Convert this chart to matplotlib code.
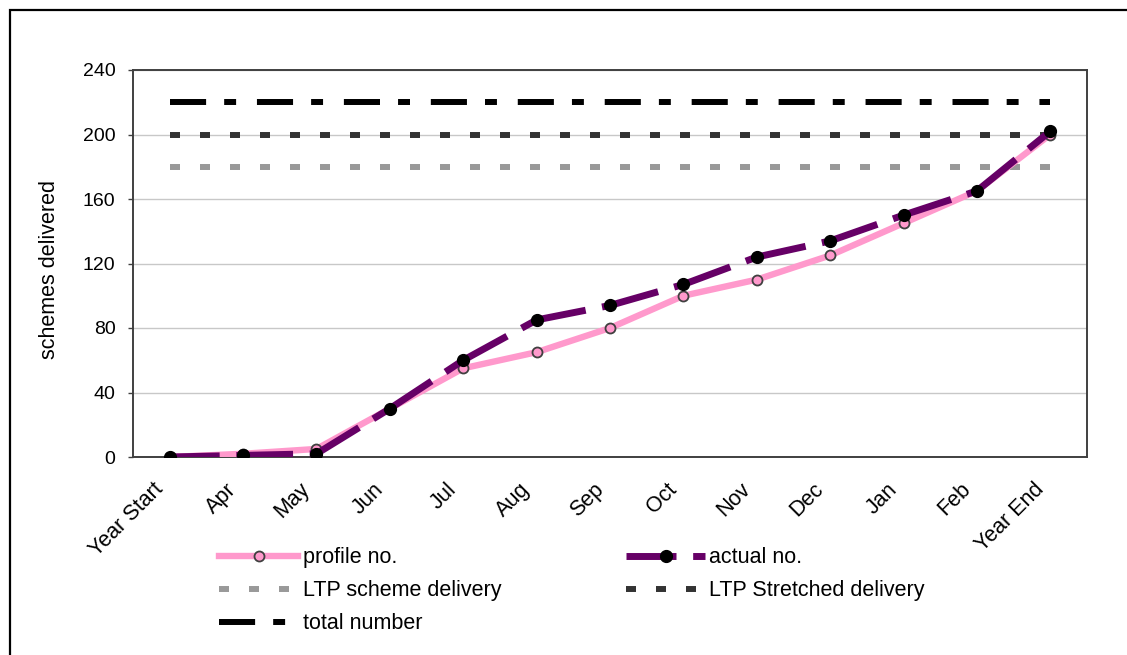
import matplotlib
matplotlib.use("Agg")
import matplotlib.pyplot as plt
from matplotlib.lines import Line2D
from matplotlib.patches import Rectangle
import matplotlib.transforms as mtransforms

categories = ["Year Start", "Apr", "May", "Jun", "Jul", "Aug", "Sep",
              "Oct", "Nov", "Dec", "Jan", "Feb", "Year End"]
profile_no = [0, 2, 5, 30, 55, 65, 80, 100, 110, 125, 145, 165, 200]
actual_no = [0, 1, 2, 30, 60, 85, 94, 107, 124, 134, 150, 165, 202]
ltp_scheme = [180] * 13
ltp_stretched = [200] * 13
total_number = [220] * 13
y_ticks = [0, 40, 80, 120, 160, 200, 240]

plt.rcParams['font.family'] = ['Liberation Sans', 'DejaVu Sans']
plt.rcParams['lines.scale_dashes'] = False
FS_Y = 14
FS = 15.5

W, H = 1127, 655
fig = plt.figure(figsize=(W / 100, H / 100), dpi=100)
fig.patches.append(Rectangle((10 / W, -0.1), 1.2, 1 - 10 / H + 0.1,
                             transform=fig.transFigure, fill=False,
                             edgecolor='black', linewidth=1.6))

ax = fig.add_axes([133 / W, 1 - 457 / H, (1087 - 133) / W, (457 - 70) / H])
x = list(range(len(categories)))

ax.set_ylim(0, 240)
ax.set_xlim(-0.5, len(categories) - 0.5)
ax.set_yticks(y_ticks)
ax.grid(axis='y', color='#c8c8c8', linewidth=1)
ax.set_axisbelow(True)

ltp1, = ax.plot(x, ltp_scheme, color='#999999', linewidth=4.3,
                dashes=(7.2, 14.4), dash_capstyle='butt', label='LTP scheme delivery', zorder=2)
ltp2, = ax.plot(x, ltp_stretched, color='#333333', linewidth=4.3,
                dashes=(7.2, 14.4), dash_capstyle='butt', label='LTP Stretched delivery', zorder=2)
tot, = ax.plot(x, total_number, color='black', linewidth=4.3,
               dashes=(26, 13, 8.6, 15), dash_capstyle='butt', label='total number', zorder=2)

prof, = ax.plot(x, profile_no, color='#ff99cc', linewidth=4.6,
                marker='o', markersize=7.2, markerfacecolor='#ff99cc',
                markeredgecolor='#404040', markeredgewidth=1.3,
                label='profile no.', zorder=3)

act_dash = (36, 12)
for i in range(len(x) - 1):
    ax.plot(x[i:i + 2], actual_no[i:i + 2], color='#660066', linewidth=5,
            dashes=act_dash, dash_capstyle='butt', solid_capstyle='butt', zorder=4)
ax.plot(x, actual_no, linestyle='none', marker='o', markersize=8.5,
        color='black', zorder=5)
act = Line2D([], [], color='#660066', linewidth=5, dashes=act_dash,
             dash_capstyle='butt', marker='o', markersize=8.5,
             markerfacecolor='black', markeredgecolor='black',
             label='actual no.')

# category labels: drawn as rotated text under each category position
ax.set_xticks(x)
ax.set_xticklabels([])
ax.tick_params(axis='x', length=0)
lab_tr = ax.get_xaxis_transform() + mtransforms.ScaledTranslation(
    -12.2 / 72, -15.8 / 72, fig.dpi_scale_trans)
for xi, cat in zip(x, categories):
    ax.text(xi, 0, cat, transform=lab_tr, rotation=45, ha='right', va='top',
            rotation_mode='anchor', fontsize=FS, clip_on=False)

ax.tick_params(axis='y', length=3.6, width=1, labelsize=FS_Y, pad=9, color='#404040')
for s in ax.spines.values():
    s.set_color('#404040')
    s.set_linewidth(1.4)
ax.set_ylabel('schemes delivered', fontsize=FS)
ax.yaxis.set_label_coords((60 - 133) / 954, 1 - (270 - 70) / 387)

handles = [prof, ltp1, tot, act, ltp2]
fig.legend(handles=handles, labels=[h.get_label() for h in handles],
           ncol=2, frameon=False, fontsize=FS, handlelength=3.67,
           handletextpad=0.2, columnspacing=5.8, labelspacing=0.55,
           loc='upper left', bbox_to_anchor=(200 / W, 1 - 528 / H))

fig.savefig('out.png', dpi=100)
